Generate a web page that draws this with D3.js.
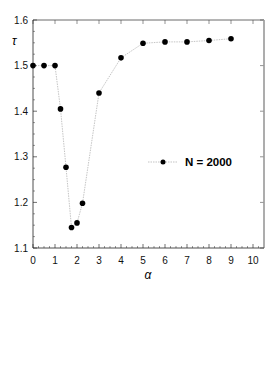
<!DOCTYPE html>
<html>
<head>
<meta charset="utf-8">
<script src="https://cdn.jsdelivr.net/npm/d3@7"></script>
<style>
  body { margin: 0; background: #fff; }
  text { font-family: "Liberation Sans", Arial, sans-serif; }
</style>
</head>
<body>
<script>
// data
var alphaVals = [0, 0.5, 1, 1.25, 1.5, 1.75, 2, 2.25, 3, 4, 5, 6, 7, 8, 9];
var tauVals = [1.5, 1.5, 1.5, 1.405, 1.277, 1.145, 1.155, 1.198, 1.44, 1.517, 1.549, 1.552, 1.552, 1.555, 1.559];
var xTicks = [0, 1, 2, 3, 4, 5, 6, 7, 8, 9, 10];
var yTicks = [1.1, 1.2, 1.3, 1.4, 1.5, 1.6];
var seriesName = "N = 2000";

var svg = d3.select("body").append("svg")
    .attr("width", 273)
    .attr("height", 392);

var x = d3.scaleLinear().domain([0, 10.5]).range([33, 264]);
var y = d3.scaleLinear().domain([1.1, 1.6]).range([248, 20]);

// minor ticks
var xMinor = d3.range(0, 10.5, 0.25).filter(v => Math.abs(v - Math.round(v)) > 1e-6);
var yMinor = d3.range(1.1, 1.6, 0.025).filter(v => Math.abs(v * 10 - Math.round(v * 10)) > 1e-6);

svg.append("g").selectAll("line").data(xMinor).join("line")
    .attr("x1", d => x(d)).attr("x2", d => x(d))
    .attr("y1", 248).attr("y2", 246)
    .attr("stroke", "#555").attr("stroke-width", 0.6);
svg.append("g").selectAll("line").data(yMinor).join("line")
    .attr("x1", 33).attr("x2", 35)
    .attr("y1", d => y(d)).attr("y2", d => y(d))
    .attr("stroke", "#555").attr("stroke-width", 0.6);

// major ticks, all four sides, inward
svg.append("g").selectAll("line").data(xTicks).join("line")
    .attr("x1", d => x(d)).attr("x2", d => x(d))
    .attr("y1", 248).attr("y2", 244)
    .attr("stroke", "#333").attr("stroke-width", 0.7);
svg.append("g").selectAll("line").data(xTicks).join("line")
    .attr("x1", d => x(d)).attr("x2", d => x(d))
    .attr("y1", 20).attr("y2", 24)
    .attr("stroke", "#666").attr("stroke-width", 0.7);
svg.append("g").selectAll("line").data(yTicks).join("line")
    .attr("x1", 33).attr("x2", 37)
    .attr("y1", d => y(d)).attr("y2", d => y(d))
    .attr("stroke", "#333").attr("stroke-width", 0.7);
svg.append("g").selectAll("line").data(yTicks).join("line")
    .attr("x1", 264).attr("x2", 260)
    .attr("y1", d => y(d)).attr("y2", d => y(d))
    .attr("stroke", "#666").attr("stroke-width", 0.7);

// frame
svg.append("line").attr("x1", 33).attr("x2", 264).attr("y1", 20).attr("y2", 20)
    .attr("stroke", "#444").attr("stroke-width", 0.8);
svg.append("line").attr("x1", 264).attr("x2", 264).attr("y1", 20).attr("y2", 248)
    .attr("stroke", "#999").attr("stroke-width", 1.6);
svg.append("line").attr("x1", 33).attr("x2", 33).attr("y1", 20).attr("y2", 248)
    .attr("stroke", "#222").attr("stroke-width", 0.8);
svg.append("line").attr("x1", 33).attr("x2", 264).attr("y1", 248).attr("y2", 248)
    .attr("stroke", "#222").attr("stroke-width", 0.8);

// tick labels
svg.append("g").selectAll("text").data(xTicks).join("text")
    .attr("x", d => x(d)).attr("y", 264)
    .attr("text-anchor", "middle")
    .attr("font-size", 10).attr("fill", "#111")
    .text(d => d);
svg.append("g").selectAll("text").data(yTicks).join("text")
    .attr("x", 28).attr("y", d => y(d) + 3.5)
    .attr("text-anchor", "end")
    .attr("font-size", 10).attr("fill", "#111")
    .text(d => d3.format(".1f")(d));

// axis titles
svg.append("text").attr("x", 12).attr("y", 45)
    .attr("font-size", 12).attr("font-style", "italic")
    .attr("font-family", "DejaVu Serif, serif")
    .text("τ");
svg.append("text").attr("x", 148).attr("y", 279)
    .attr("text-anchor", "middle")
    .attr("font-size", 12).attr("font-style", "italic")
    .attr("font-family", "Liberation Serif, serif")
    .text("α");

// series
var pts = alphaVals.map((a, i) => [a, tauVals[i]]);
var line = d3.line().x(d => x(d[0])).y(d => y(d[1]));
svg.append("path").datum(pts)
    .attr("d", line)
    .attr("fill", "none")
    .attr("stroke", "#aaa")
    .attr("stroke-width", 0.7)
    .attr("stroke-dasharray", "1.5,1");
svg.append("g").selectAll("circle").data(pts).join("circle")
    .attr("cx", d => x(d[0])).attr("cy", d => y(d[1]))
    .attr("r", 2.8).attr("fill", "#000");

// legend
svg.append("line").attr("x1", 148).attr("x2", 178).attr("y1", 162).attr("y2", 162)
    .attr("stroke", "#aaa").attr("stroke-width", 0.7).attr("stroke-dasharray", "1.5,1");
svg.append("circle").attr("cx", 163).attr("cy", 162).attr("r", 2.5).attr("fill", "#000");
svg.append("text").attr("x", 185).attr("y", 166)
    .attr("font-size", 11.5).attr("font-weight", "bold")
    .text(seriesName);
</script>
</body>
</html>
